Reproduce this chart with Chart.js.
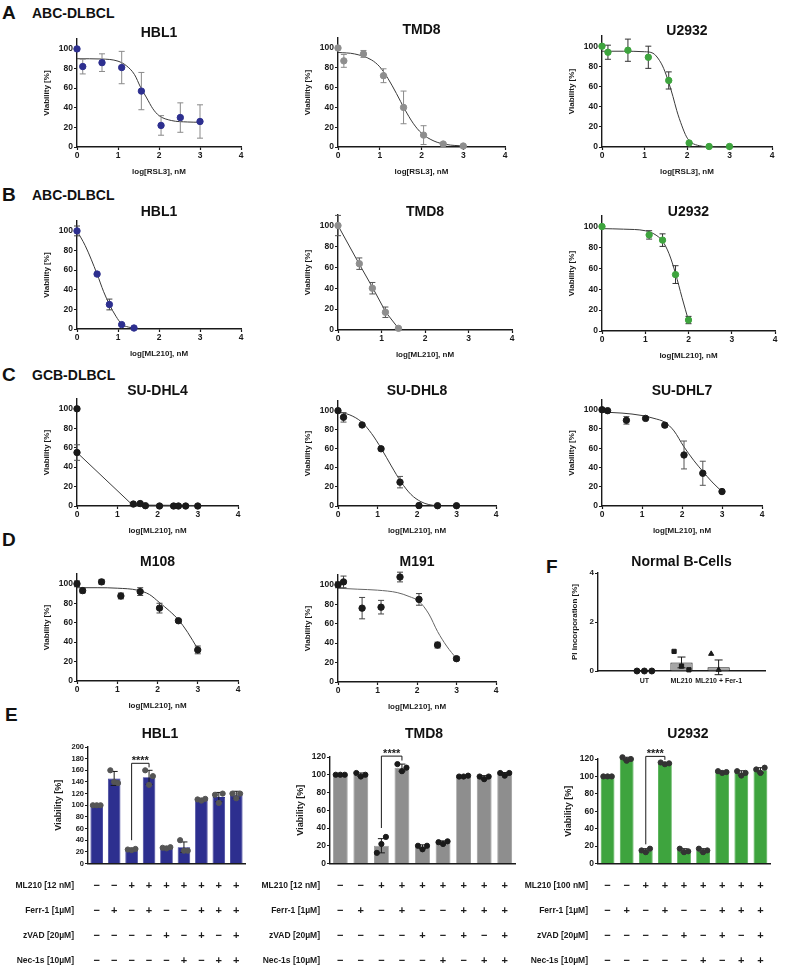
<!DOCTYPE html>
<html>
<head>
<meta charset="utf-8">
<script src="https://cdn.jsdelivr.net/npm/chart.js@4.4.1/dist/chart.umd.min.js"></script>
<style>
  body { margin: 0; background: #fff; }
  #fig { position: relative; width: 790px; height: 978px; overflow: hidden; font-family: "Liberation Sans", Arial, sans-serif; color: #111; }
  #fig canvas { position: absolute; }
  .t { position: absolute; font-weight: bold; white-space: nowrap; line-height: 1.15; }
</style>
</head>
<body>
<div id="fig"></div>
<script>
// ---- data ----
const doseTicks = [0, 1, 2, 3, 4];
const viaTicks = [0, 20, 40, 60, 80, 100];
const rslDose = [0, 0.14, 0.61, 1.09, 1.57, 2.05, 2.52, 3];
const mlDoseABC = [0, 0.49, 0.79, 1.09, 1.39];
const mlDoseU29 = [0, 1.09, 1.4, 1.7, 2.0];
const mlDoseDhl4 = [0, 0, 1.40, 1.57, 1.70, 2.05, 2.40, 2.52, 2.70, 3.0];

// A: RSL3
const aHblY = [100, 82, 86, 81, 57, 22, 30, 26];
const aHblErr = [0, 7.5, 9, 16.5, 19, 10, 15, 17];
const aHblFitX = [0, 0.6, 1.0, 1.2, 1.4, 1.55, 1.7, 1.85, 2.0, 2.3, 2.7, 3.0];
const aHblFitY = [90, 89.7, 87.5, 83, 74, 61, 50, 39, 32, 27, 25.5, 25.2];
const aTmdY = [100, 87, 94, 72, 40, 12, 3, 1];
const aTmdErr = [0, 6.5, 3.5, 7, 16.5, 9.5, 1, 0.5];
const aTmdFitX = [0, 0.4, 0.8, 1.0, 1.2, 1.4, 1.6, 1.8, 2.0, 2.3, 2.6, 3.0];
const aTmdFitY = [95.5, 94, 88, 81, 69, 54, 38, 24, 14, 6, 2.5, 1];
const aU29Y = [100, 94, 96, 89, 66, 4, 0.5, 0.5];
const aU29Err = [0, 7, 11, 11, 8.5, 0, 0, 0];
const aU29FitX = [0, 0.5, 1.0, 1.2, 1.35, 1.45, 1.57, 1.67, 1.76, 1.88, 1.99, 2.1, 2.3, 2.6, 3.0];
const aU29FitY = [95, 95, 94.5, 93, 86, 78, 64, 50, 36, 21, 10, 4.5, 1.2, 0.2, 0];

// B: ML210 (ABC)
const bHblY = [100, 56, 25, 4.5, 1];
const bHblErr = [5, 1, 5.5, 1, 0];
const bHblFitX = [0, 0.2, 0.49, 0.65, 0.79, 0.95, 1.09, 1.25, 1.39];
const bHblFitY = [100, 85, 56, 38, 25, 13, 5, 2, 1];
const bTmdY = [100, 63.5, 40, 17, 1.6];
const bTmdErr = [9.7, 5.5, 5.5, 5, 0];
const bTmdFitX = [0, 0.49, 0.79, 1.1, 1.4];
const bTmdFitY = [100, 63, 41, 17, 1];
const bU29Y = [100, 92, 87, 54, 10.5];
const bU29Err = [0, 4, 6, 8.5, 3.5];
const bU29FitX = [0, 0.5, 1.0, 1.2, 1.4, 1.55, 1.7, 1.85, 2.0];
const bU29FitY = [98, 97.5, 96, 93, 86, 74, 55, 32, 10];

// C: ML210 (GCB)
const cDhl4Y = [100, 55, 2, 2.5, 0.3, 0, 0, 0, 0, 0];
const cDhl4Err = [0, 8, 0, 0, 0, 0, 0, 0, 0, 0];
const cDhl4FitX = [0, 1.38, 3.0];
const cDhl4FitY = [55, 1, 0.5];
const cDhl8Y = [100, 93, 85, 60, 25, 0.5, 0.3, 0.3];
const cDhl8Err = [0, 5, 1, 1.5, 6, 0, 0, 0];
const cDhl8FitX = [0, 0.3, 0.6, 0.85, 1.1, 1.35, 1.6, 1.85, 2.1, 2.3, 2.5];
const cDhl8FitY = [98.5, 95.5, 88, 76, 60, 42, 25, 12, 4.5, 1.5, 0.3];
const cDhl7Y = [100, 99, 89, 91, 84, 53, 34, 15];
const cDhl7Err = [0, 0, 4, 0, 2, 14.5, 12.5, 0];
const cDhl7FitX = [0, 0.5, 1.0, 1.3, 1.57, 1.8, 2.04, 2.3, 2.52, 2.75, 3.0];
const cDhl7FitY = [97.5, 96.5, 94, 91, 87, 78, 62, 47, 36, 25, 15];

// D: primary samples
const dM108Y = [100, 93, 102, 87.5, 92, 75, 62, 32];
const dM108Err = [3, 2.5, 2.5, 3, 4, 5, 1.5, 4];
const dM108FitX = [0, 0.5, 1.0, 1.5, 1.8, 2.04, 2.3, 2.52, 2.75, 3.0];
const dM108FitY = [96, 96, 95.5, 93.5, 89, 81, 72, 63, 50, 33];
const dM191Y = [100, 103, 76, 77, 108, 85, 38, 24];
const dM191Err = [3, 6, 11, 7, 5, 6, 3, 2];
const dM191FitX = [0, 0.5, 1.0, 1.5, 1.8, 2.05, 2.3, 2.52, 2.75, 3.0];
const dM191FitY = [96.5, 95.5, 94.5, 92, 88, 83, 70, 52, 37, 24];

// F: normal B cells
const fCats = ['UT', 'ML210', 'ML210 + Fer-1'];
const fMeans = [0, 0.35, 0.15];
const fErr = [0.02, 0.22, 0.3];
const fReps = [[0, 0, 0], [0.8, 0.2, 0.05], [0.7, 0.05, -0.35]];
const fTicks = [0, 2, 4];

// E: rescue experiments
const eCols = [0, 1, 2, 3, 4, 5, 6, 7, 8];
const eRowMl = ['−', '−', '+', '+', '+', '+', '+', '+', '+'];
const eRowFerr = ['−', '+', '−', '+', '−', '−', '+', '+', '+'];
const eRowZvad = ['−', '−', '−', '−', '+', '−', '+', '−', '+'];
const eRowNec = ['−', '−', '−', '−', '−', '+', '−', '+', '+'];
const eHeads12 = ['ML210 [12 nM]', 'Ferr-1 [1µM]', 'zVAD [20µM]', 'Nec-1s [10µM]'];
const eHeads100 = ['ML210 [100 nM]', 'Ferr-1 [1µM]', 'zVAD [20µM]', 'Nec-1s [10µM]'];
const eHblTicks = [0, 20, 40, 60, 80, 100, 120, 140, 160, 180, 200];
const eHblMeans = [100, 146, 24, 148, 27, 28, 110, 114, 118];
const eHblErr = [1, 12, 2, 12, 2, 9, 2, 8, 6];
const eHblReps = [[100, 100, 100], [160, 140, 138], [24, 23, 25], [160, 135, 150], [27, 26, 28], [40, 22, 22], [110, 108, 111], [118, 104, 120], [120, 112, 120]];
const eTmdTicks = [0, 20, 40, 60, 80, 100, 120];
const eTmdMeans = [100, 100, 20, 108, 19, 24, 98, 97, 101];
const eTmdErr = [0.5, 2, 8, 4, 2, 1.5, 0.5, 2, 1.5];
const eTmdReps = [[100, 100, 100], [102, 98, 100], [12, 22, 30], [112, 104, 108], [20, 16, 20], [24, 22, 25], [98, 98, 99], [98, 95, 98], [102, 99, 102]];
const eU29Ticks = [0, 20, 40, 60, 80, 100, 120];
const eU29Means = [100, 120, 15, 115, 15, 15, 105, 104, 107];
const eU29Err = [0.5, 2, 2, 1, 2, 2, 1, 2.5, 3];
const eU29Reps = [[100, 100, 100], [122, 118, 120], [15, 13, 17], [116, 114, 115], [17, 13, 14], [17, 13, 15], [106, 104, 105], [106, 101, 104], [108, 104, 110]];

// ---- helpers ----
const fig = document.getElementById('fig');
const ink = '#1a1a1a';
const navy = '#2d2f8f', grey = '#8e8e8e', green = '#3ea43e';

Chart.defaults.font.family = '"Liberation Sans", Arial, Helvetica, sans-serif';
Chart.defaults.color = ink;
Chart.defaults.animation = false;

function canvasAt(left, top, w, h) {
  const c = document.createElement('canvas');
  c.width = Math.round(w); c.height = Math.round(h);
  c.style.left = Math.round(left) + 'px';
  c.style.top = Math.round(top) + 'px';
  fig.appendChild(c);
  return c;
}

function text(str, x, y, size, align) {
  const d = document.createElement('div');
  d.className = 't';
  d.textContent = str;
  d.style.fontSize = size + 'px';
  d.style.top = (y - size * 0.6) + 'px';
  if (align === 'center') {
    d.style.left = (x - 200) + 'px'; d.style.width = '400px'; d.style.textAlign = 'center';
  } else {
    d.style.left = x + 'px';
  }
  fig.appendChild(d);
}

function drawErr(chart, ds) {
  const {ctx, scales: {x, y}} = chart;
  ctx.save();
  ctx.strokeStyle = ds.errColor || ink;
  ctx.lineWidth = 1;
  const cap = ds.capW || 3;
  ds.data.forEach((d, j) => {
    const e = ds.errors[j];
    if (!e) return;
    const px = x.getPixelForValue(d.x);
    const hi = y.getPixelForValue(d.y + e), lo = y.getPixelForValue(d.y - e);
    ctx.beginPath();
    ctx.moveTo(px, hi); ctx.lineTo(px, lo);
    ctx.moveTo(px - cap, hi); ctx.lineTo(px + cap, hi);
    ctx.moveTo(px - cap, lo); ctx.lineTo(px + cap, lo);
    ctx.stroke();
  });
  ctx.restore();
}

const errorBars = {
  id: 'errorBars',
  beforeDatasetDraw(chart, args) {
    const ds = chart.data.datasets[args.index];
    if (ds.errors && ds.errBehind) drawErr(chart, ds);
  },
  afterDatasetDraw(chart, args) {
    const ds = chart.data.datasets[args.index];
    if (ds.errors && !ds.errBehind) drawErr(chart, ds);
  }
};

const sigBracket = {
  id: 'sigBracket',
  afterDatasetsDraw(chart, args, opts) {
    if (!opts || opts.from == null) return;
    const {ctx, scales: {x, y}} = chart;
    const xa = x.getPixelForValue(opts.from), xb = x.getPixelForValue(opts.to);
    const yb = y.getPixelForValue(opts.y);
    ctx.save();
    ctx.strokeStyle = ink; ctx.lineWidth = 1;
    ctx.beginPath();
    ctx.moveTo(xa, y.getPixelForValue(opts.legA));
    ctx.lineTo(xa, yb); ctx.lineTo(xb, yb);
    ctx.lineTo(xb, y.getPixelForValue(opts.legB));
    ctx.stroke();
    ctx.fillStyle = ink;
    ctx.font = 'bold 11px "Liberation Sans", Arial, sans-serif';
    ctx.textAlign = 'center'; ctx.textBaseline = 'bottom';
    ctx.fillText(opts.text, (xa + xb) / 2, yb + 3);
    ctx.restore();
  }
};

const rowHeads = {
  id: 'rowHeads',
  afterDraw(chart, args, opts) {
    if (!opts || !opts.labels) return;
    const {ctx} = chart;
    const s = chart.scales.x;
    ctx.save();
    ctx.fillStyle = ink;
    ctx.font = 'bold 8.5px "Liberation Sans", Arial, sans-serif';
    ctx.textAlign = 'right'; ctx.textBaseline = 'middle';
    opts.labels.forEach((l, k) => ctx.fillText(l, opts.right, s.top + opts.pad + opts.lineHeight * (k + 0.5)));
    ctx.restore();
  }
};

Chart.register(errorBars, sigBracket, rowHeads);

function tickFont(size) { return {size: size, weight: 'bold'}; }

function doseChart(p) {
  const unit = (p.y0 - p.y100) / 100;
  const top = p.y0 - 110 * unit;
  const YW = 37, XH = 32, PT = 5, PR = 9;
  const cv = canvasAt(p.x0 - YW, top - PT, p.x4 - p.x0 + YW + PR, p.y0 - top + PT + XH);
  text(p.title, (p.x0 + p.x4) / 2, p.titleY, 14, 'center');
  const pts = p.xs.map((x, i) => ({x: x, y: p.ys[i]}));
  const fit = p.fitX.map((x, i) => ({x: x, y: p.fitY[i]}));
  new Chart(cv, {
    type: 'scatter',
    data: {
      datasets: [
        {data: pts, errors: p.errs, errColor: p.errColor, errBehind: true, capW: 3,
         backgroundColor: p.color, borderColor: p.color, pointRadius: 3.2, clip: false, order: 1},
        {type: 'line', data: fit, borderColor: p.fitColor || '#3a3a3a', borderWidth: 1, pointRadius: 0,
         fill: false, tension: p.straight ? 0 : 0.4, cubicInterpolationMode: p.straight ? 'default' : 'monotone',
         clip: false, order: 2}
      ]
    },
    options: {
      responsive: false,
      layout: {padding: {left: 0, top: PT, right: PR, bottom: 0}},
      plugins: {legend: {display: false}, tooltip: {enabled: false}},
      scales: {
        x: {
          type: 'linear', min: 0, max: 4,
          afterBuildTicks: s => { s.ticks = doseTicks.map(v => ({value: v})); },
          afterFit: s => { s.height = XH; },
          grid: {drawOnChartArea: false, tickLength: 3, tickWidth: 1.2, color: ink},
          border: {color: ink, width: 1.4},
          ticks: {font: tickFont(8.5), padding: 1, color: ink, autoSkip: false, maxRotation: 0},
          title: {display: true, text: p.xTitle, font: tickFont(8), padding: {top: 0, bottom: 2}, color: ink}
        },
        y: {
          min: 0, max: 110,
          afterBuildTicks: s => { s.ticks = viaTicks.map(v => ({value: v})); },
          afterFit: s => { s.width = YW; },
          grid: {drawOnChartArea: false, tickLength: 3, tickWidth: 1.2, color: ink},
          border: {color: ink, width: 1.4},
          ticks: {font: tickFont(8.5), padding: 1, color: ink, autoSkip: false},
          title: {display: true, text: 'Viability [%]', font: tickFont(8), padding: {top: 2, bottom: 0}, color: ink}
        }
      }
    }
  });
}

function eChart(p) {
  const YW = 37, PT = 16, LH = 25, XPAD = 9.5;
  const XH = LH * 4 + XPAD + 4;
  const left = p.canvasLeft;
  const cv = canvasAt(left, p.yTop - PT, p.right + 6 - left, p.y0 - p.yTop + PT + XH);
  text(p.title, p.titleX, p.titleY, 14, 'center');
  const bars = p.means.map((v, i) => ({x: i, y: v}));
  const dots = [];
  p.reps.forEach((r, i) => r.forEach((v, k) => dots.push({x: i + (k - 1) * 0.22, y: v})));
  new Chart(cv, {
    type: 'bar',
    data: {
      datasets: [
        {type: 'scatter', data: dots, backgroundColor: p.dotColor, borderColor: p.dotColor,
         pointRadius: 2.6, clip: false, order: 0},
        {type: 'bar', data: bars, errors: p.errs, errColor: ink, capW: 3.5,
         backgroundColor: p.color, borderColor: p.edge || p.color, borderWidth: 0.8,
         barPercentage: 0.72, categoryPercentage: 1, order: 1}
      ]
    },
    options: {
      responsive: false,
      layout: {padding: {left: p.axisX - YW - left, top: PT, right: 6, bottom: 0}},
      plugins: {
        legend: {display: false}, tooltip: {enabled: false},
        sigBracket: p.sig,
        rowHeads: {labels: p.heads, right: p.headRight - left, pad: XPAD, lineHeight: LH}
      },
      scales: {
        x: {
          type: 'linear', min: -0.5, max: 8.5, offset: false,
          afterBuildTicks: s => { s.ticks = eCols.map(v => ({value: v})); },
          afterFit: s => { s.height = XH; },
          grid: {display: false, drawTicks: false},
          border: {display: true, color: ink, width: 1.4},
          ticks: {callback: v => p.rows.map(r => r[v]), font: {size: 11, weight: 'bold', lineHeight: LH / 11},
                  padding: XPAD, autoSkip: false, maxRotation: 0, color: ink}
        },
        y: {
          min: 0, max: p.yMax,
          afterBuildTicks: s => { s.ticks = p.yTicks.map(v => ({value: v})); },
          afterFit: s => { s.width = YW; },
          grid: {drawOnChartArea: false, tickLength: 3, tickWidth: 1.2, color: ink},
          border: {color: ink, width: 1.4},
          ticks: {font: tickFont(p.tickSize || 8.5), padding: 1, color: ink, autoSkip: false},
          title: {display: true, text: 'Viability [%]', font: tickFont(9), padding: {top: 2, bottom: 0}, color: ink}
        }
      }
    }
  });
}

function fChart() {
  const x0 = 598, right = 765, y0 = 671, y4 = 573;
  const YW = 30, PT = 6, XH = 22;
  const cv = canvasAt(x0 - YW, y4 - PT, right - x0 + YW + 8, y0 - y4 + PT + XH);
  text('Normal B-Cells', (x0 + right) / 2, 561, 14, 'center');
  const bars = fMeans.map((v, i) => ({x: i, y: v}));
  const dots = [], styles = [];
  const shapes = ['circle', 'rect', 'triangle'];
  fReps.forEach((r, i) => r.forEach((v, k) => { dots.push({x: i + (k - 1) * 0.2, y: v}); styles.push(shapes[i]); }));
  new Chart(cv, {
    type: 'bar',
    data: {
      datasets: [
        {type: 'scatter', data: dots, pointStyle: styles, backgroundColor: ink, borderColor: ink,
         pointRadius: 3, clip: false, order: 0},
        {type: 'bar', data: bars, errors: fErr, errColor: ink, capW: 4,
         backgroundColor: '#a6a6a6', borderColor: ink, borderWidth: 1,
         barPercentage: 0.6, categoryPercentage: 1, order: 1}
      ]
    },
    options: {
      responsive: false,
      layout: {padding: {left: 0, top: PT, right: 8, bottom: 0}},
      plugins: {legend: {display: false}, tooltip: {enabled: false}},
      scales: {
        x: {
          type: 'linear', min: -0.5, max: 2.5,
          afterBuildTicks: s => { s.ticks = [0, 1, 2].map(v => ({value: v})); },
          afterFit: s => { s.height = XH; },
          grid: {display: false, drawTicks: false},
          border: {color: ink, width: 1.4},
          ticks: {callback: v => fCats[v], font: tickFont(7), padding: 6, autoSkip: false, maxRotation: 0, color: ink}
        },
        y: {
          min: 0, max: 4,
          afterBuildTicks: s => { s.ticks = fTicks.map(v => ({value: v})); },
          afterFit: s => { s.width = YW; },
          grid: {drawOnChartArea: false, tickLength: 3, tickWidth: 1.2, color: ink},
          border: {color: ink, width: 1.4},
          ticks: {font: tickFont(8), padding: 1, color: ink, autoSkip: false},
          title: {display: true, text: 'PI incorporation [%]', font: tickFont(8), padding: {top: 2, bottom: 0}, color: ink}
        }
      }
    }
  });
}

// ---- panel labels ----
text('A', 2, 13, 19); text('ABC-DLBCL', 32, 13, 14);
text('B', 2, 195, 19); text('ABC-DLBCL', 32, 195, 14);
text('C', 2, 375, 19); text('GCB-DLBCL', 32, 375, 14);
text('D', 2, 540, 19);
text('F', 546, 567, 19);
text('E', 5, 715, 19);

// ---- A ----
doseChart({x0: 77, x4: 241, y100: 48, y0: 147, titleY: 32, title: 'HBL1', xTitle: 'log[RSL3], nM', color: navy, errColor: '#8a8a8a',
  xs: rslDose, ys: aHblY, errs: aHblErr, fitX: aHblFitX, fitY: aHblFitY});
doseChart({x0: 338, x4: 505, y100: 47, y0: 147, titleY: 29, title: 'TMD8', xTitle: 'log[RSL3], nM', color: grey, errColor: '#8a8a8a',
  xs: rslDose, ys: aTmdY, errs: aTmdErr, fitX: aTmdFitX, fitY: aTmdFitY});
doseChart({x0: 602, x4: 772, y100: 45, y0: 147, titleY: 30, title: 'U2932', xTitle: 'log[RSL3], nM', color: green, errColor: '#333',
  xs: rslDose, ys: aU29Y, errs: aU29Err, fitX: aU29FitX, fitY: aU29FitY});

// ---- B ----
doseChart({x0: 77, x4: 241, y100: 230, y0: 329, titleY: 211, title: 'HBL1', xTitle: 'log[ML210], nM', color: navy, errColor: '#444',
  xs: mlDoseABC, ys: bHblY, errs: bHblErr, fitX: bHblFitX, fitY: bHblFitY});
doseChart({x0: 338, x4: 512, y100: 224, y0: 329, titleY: 211, title: 'TMD8', xTitle: 'log[ML210], nM', color: grey, errColor: '#555',
  xs: mlDoseABC, ys: bTmdY, errs: bTmdErr, fitX: bTmdFitX, fitY: bTmdFitY, straight: true});
doseChart({x0: 602, x4: 775, y100: 225, y0: 330, titleY: 211, title: 'U2932', xTitle: 'log[ML210], nM', color: green, errColor: '#333',
  xs: mlDoseU29, ys: bU29Y, errs: bU29Err, fitX: bU29FitX, fitY: bU29FitY});

// ---- C ----
doseChart({x0: 77, x4: 238, y100: 408, y0: 506, titleY: 390, title: 'SU-DHL4', xTitle: 'log[ML210], nM', color: ink, errColor: '#555',
  xs: mlDoseDhl4, ys: cDhl4Y, errs: cDhl4Err, fitX: cDhl4FitX, fitY: cDhl4FitY, straight: true});
doseChart({x0: 338, x4: 496, y100: 410, y0: 506, titleY: 390, title: 'SU-DHL8', xTitle: 'log[ML210], nM', color: ink, errColor: '#555',
  xs: rslDose, ys: cDhl8Y, errs: cDhl8Err, fitX: cDhl8FitX, fitY: cDhl8FitY});
doseChart({x0: 602, x4: 762, y100: 409, y0: 506, titleY: 390, title: 'SU-DHL7', xTitle: 'log[ML210], nM', color: ink, errColor: '#555',
  xs: rslDose, ys: cDhl7Y, errs: cDhl7Err, fitX: cDhl7FitX, fitY: cDhl7FitY});

// ---- D ----
doseChart({x0: 77, x4: 238, y100: 583, y0: 681, titleY: 561, title: 'M108', xTitle: 'log[ML210], nM', color: ink, errColor: '#444',
  xs: rslDose, ys: dM108Y, errs: dM108Err, fitX: dM108FitX, fitY: dM108FitY});
doseChart({x0: 338, x4: 496, y100: 584, y0: 682, titleY: 561, title: 'M191', xTitle: 'log[ML210], nM', color: ink, errColor: '#444',
  xs: rslDose, ys: dM191Y, errs: dM191Err, fitX: dM191FitX, fitY: dM191FitY, fitColor: '#666'});

// ---- F ----
fChart();

// ---- E ----
const eRows = [eRowMl, eRowFerr, eRowZvad, eRowNec];
eChart({canvasLeft: 0, axisX: 88, right: 245, yTop: 747, y0: 863, yMax: 200, titleX: 160, titleY: 733, title: 'HBL1', tickSize: 7.5,
  yTicks: eHblTicks, means: eHblMeans, errs: eHblErr, reps: eHblReps, color: navy, dotColor: '#555',
  heads: eHeads12, headRight: 74, rows: eRows, sig: {from: 2, to: 3, y: 172, legA: 40, legB: 165, text: '****'}});
eChart({canvasLeft: 258, axisX: 330, right: 515, yTop: 757, y0: 863, yMax: 120, titleX: 424, titleY: 733, title: 'TMD8',
  yTicks: eTmdTicks, means: eTmdMeans, errs: eTmdErr, reps: eTmdReps, color: grey, dotColor: ink,
  heads: eHeads12, headRight: 320, rows: eRows, sig: {from: 2, to: 3, y: 121, legA: 40, legB: 116, text: '****'}});
eChart({canvasLeft: 524, axisX: 598, right: 770, yTop: 759, y0: 863, yMax: 120, titleX: 688, titleY: 733, title: 'U2932',
  yTicks: eU29Ticks, means: eU29Means, errs: eU29Err, reps: eU29Reps, color: green, dotColor: '#333',
  heads: eHeads100, headRight: 588, rows: eRows, sig: {from: 2, to: 3, y: 123, legA: 22, legB: 119, text: '****'}});
</script>
</body>
</html>
